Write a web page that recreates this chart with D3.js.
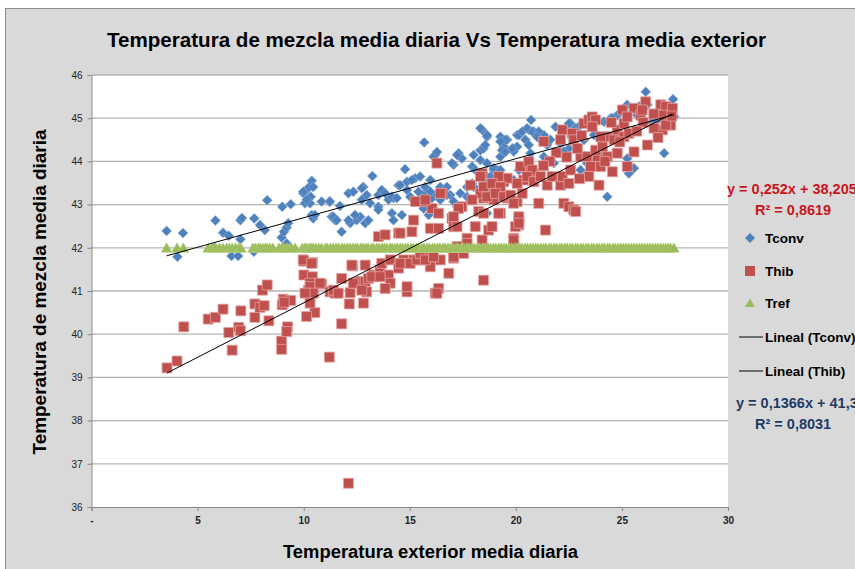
<!DOCTYPE html>
<html><head><meta charset="utf-8">
<script src="https://cdn.jsdelivr.net/npm/d3@7"></script>
<style>html,body{margin:0;padding:0;background:#fff;overflow:hidden}</style>
</head><body><svg id="c" width="855" height="569"></svg>
<script>
// ---------------- DATA ----------------
const chartTitle = "Temperatura de mezcla media diaria Vs Temperatura media exterior";
const xAxisTitle = "Temperatura exterior media diaria";
const yAxisTitle = "Temperatura de mezcla media diaria";
const xTickValues = [0, 5, 10, 15, 20, 25, 30];
const xTickLabels = ["-", "5", "10", "15", "20", "25", "30"];
const yTickValues = [36, 37, 38, 39, 40, 41, 42, 43, 44, 45, 46];
const seriesNames = ["Tconv", "Thib", "Tref", "Lineal (Tconv)", "Lineal (Thib)"];

// Tconv [x, y]
const tconv = [
[3.54,42.39],[4.05,41.79],[4.31,42.34],[5.81,42.0],[5.84,42.63],[6.2,42.35],[6.47,42.28],[6.6,41.81],[6.91,41.81],[7.02,42.64],[7.02,42.2],[7.09,42.69],[7.65,41.91],[7.67,42.68],[7.94,42.53],[8.17,42.41],[8.28,43.1],[8.99,42.95],[9.39,43.01],[8.96,42.24],[9.07,42.37],[9.2,42.47],[9.27,42.57],[9.2,42.1],[9.98,43.26],[10.14,43.34],[10.26,43.41],[10.38,43.55],[10.33,43.18],[10.06,43.03],[10.3,43.03],[10.38,42.76],[10.45,42.68],[10.85,43.07],[11.21,43.07],[11.32,42.72],[11.48,42.64],[11.79,42.37],[12.11,43.26],[11.71,42.97],[12.19,42.57],[12.5,42.64],[12.81,43.41],[12.74,43.11],[12.9,42.57],[13.05,42.64],[13.24,43.66],[13.52,43.22],[13.68,43.34],[13.84,43.26],[13.52,42.95],[14.0,43.11],[14.23,43.15],[14.16,42.8],[14.23,42.64],[14.63,42.76],[14.78,43.82],[14.47,43.45],[14.87,43.34],[15.02,43.18],[15.26,43.61],[15.49,43.65],[15.65,42.91],[15.89,42.76],[16.05,43.15],[15.65,43.22],[15.68,44.44],[15.97,43.57],[16.2,44.15],[16.44,43.41],[16.75,43.41],[16.91,43.22],[17.07,43.92],[17.3,44.19],[17.46,44.07],[17.07,43.07],[17.23,42.95],[17.7,43.41],[17.94,43.49],[17.94,43.88],[18.33,44.03],[18.33,44.26],[18.48,44.3],[18.41,44.73],[18.64,44.57],[18.48,43.72],[18.64,43.41],[19.12,43.8],[19.27,44.11],[19.43,44.34],[19.27,44.57],[19.59,44.5],[19.9,44.3],[20.06,44.61],[19.35,44.26],[18.96,43.34],[19.12,43.18],[18.64,42.8],
[26.12,45.61],[27.41,45.44],[20.72,44.96],[20.22,44.65],[20.61,44.73],[20.85,44.69],[21.32,44.61],[20.45,44.5],[20.06,44.34],[19.9,44.23],[20.61,44.38],[21.87,44.8],[22.58,44.88],[22.89,44.77],[22.11,44.42],[22.5,44.3],[22.26,44.23],[21.32,44.11],[21.79,43.96],[20.14,43.8],[24.15,44.92],[24.47,45.0],[24.78,45.07],[25.1,45.15],[25.73,45.07],[26.2,45.31],[25.81,45.27],[23.52,44.8],[23.76,44.65],[24.0,44.5],[23.21,44.5],[22.89,44.34],[23.05,43.8],[23.36,43.96],[25.25,44.07],[25.33,43.72],[25.57,43.84],[24.31,43.18],[26.99,44.19],[26.36,44.88],[26.67,44.96],[27.14,44.96],[27.46,45.04],
[16.12,44.11],[16.28,44.22],[10.45,43.41],[9.98,43.3],[10.14,43.11],[10.53,42.76],[11.24,43.07],[11.4,42.72],[11.56,42.64],[12.11,42.64],[12.34,43.3],[12.74,43.38],[12.97,43.22],[13.13,43.03],[12.66,42.72],[12.42,42.76],[13.52,42.88],[14.16,43.18],[14.39,43.15],[14.55,43.45],[14.87,43.53],[15.1,43.57],[15.41,43.3],[15.73,43.41],[15.97,43.3],[16.28,43.22],[16.44,43.11],[16.75,43.22],[17.38,43.26],[17.7,43.18],[18.01,43.41],[18.33,43.3],[18.64,43.49],[18.96,43.8],[18.56,44.38],[18.01,44.15],[18.09,43.8],[17.23,44.15],[16.99,43.96],
[19.51,44.5],[19.27,44.46],[19.51,44.22],[19.83,44.3],[20.14,44.61],[20.3,44.69],[20.53,44.77],[20.77,44.69],[21.08,44.69],[21.0,44.57],[21.24,44.46],[21.48,44.38],[21.63,44.5],[22.11,44.57],[22.34,44.73],[22.5,44.88],[22.82,44.77],[23.05,44.84],[23.21,44.5],[23.68,44.61],[24.31,44.92],[24.55,45.0],[25.25,45.31],[25.96,45.27],[26.51,44.96],[18.64,44.61],[18.33,44.77],[18.64,43.96],[18.96,43.84],[19.27,43.8],[18.8,43.65],[19.9,43.57],[20.37,43.8],[20.69,44.19]
];

// Thib [x, y]
const thib = [
[3.56,39.22],[4.03,39.38],[4.35,40.17],[5.5,40.35],[5.84,40.39],[6.2,40.58],[6.47,40.04],[6.63,39.63],[6.94,40.16],[7.02,40.08],[7.04,40.54],[7.7,40.7],[7.7,40.39],[7.94,40.62],[8.14,40.66],[8.06,41.02],[8.28,41.14],[8.36,40.31],[9.04,40.81],[8.99,40.68],[9.39,40.78],[9.08,40.74],[8.96,39.84],[8.96,39.65],[9.24,40.17],[9.2,40.06],[10.01,41.69],[10.41,41.66],[10.01,41.37],[10.41,41.33],[10.3,41.18],[10.22,41.02],[10.38,40.95],[10.3,40.87],[10.53,40.5],[10.85,41.16],[11.24,40.98],[11.48,40.95],[11.21,39.47],[11.79,41.29],[11.79,40.24],[12.15,40.7],[12.31,41.58],[12.19,40.96],[12.42,41.18],[12.66,41.22],[12.82,40.72],[12.9,41.6],[12.11,36.55],
[12.97,40.98],[12.9,41.22],[13.29,41.37],[13.6,41.49],[13.68,41.64],[14.0,41.37],[14.08,41.18],[13.84,41.06],[13.52,42.26],[13.84,42.3],[14.47,42.34],[15.1,42.37],[15.18,42.64],[14.87,40.98],[14.87,41.1],[14.71,41.72],[15.18,41.72],[15.49,41.72],[15.81,41.79],[15.97,41.56],[15.65,43.07],[16.05,42.91],[16.36,42.8],[15.97,42.45],[16.36,42.45],[16.2,40.95],[16.36,41.06],[16.44,41.72],[16.84,41.41],[17.07,41.76],[16.52,43.26],[16.28,43.96],[16.99,42.68],[17.07,42.49],[17.46,42.95],[17.54,41.87],[17.7,42.22],[17.86,43.45],[18.09,42.49],[18.25,42.84],[18.41,42.18],[18.48,41.25],[18.72,42.41],[18.88,42.49],[19.27,42.8],[19.9,42.22],[20.14,42.64],[20.14,42.53],[19.59,43.15],[20.06,43.07],[18.96,43.34],[19.12,43.45],[19.43,43.53],[18.96,43.11],[18.48,43.15],[18.33,43.26],[20.37,43.57],[20.85,43.72],[20.61,43.88],[20.06,43.49],[19.59,43.61],[19.19,43.65],[20.3,43.26],[17.94,43.11],[17.3,42.91],
[9.98,41.72],[10.38,41.64],[10.3,41.1],[10.77,41.18],[10.45,40.95],[10.06,40.95],[11.4,41.02],[11.63,40.95],[12.27,41.6],[12.34,41.18],[13.05,41.29],[12.74,41.02],[13.21,41.33],[13.6,41.33],[14.08,41.72],[14.47,41.53],[14.55,41.64],[15.02,41.64],[15.34,41.72],[15.49,41.87],[15.73,41.72],[16.12,41.79],[16.28,40.95],[17.07,41.79],[17.7,42.1],[17.23,42.03],[14.55,42.34],[15.26,43.07],[15.73,43.11],[16.44,43.26],[17.07,42.72],[17.23,42.49],[18.41,43.72],[18.48,43.41],[18.64,43.18],[18.88,43.49],[10.14,40.41],[10.3,40.72],
[18.33,43.65],[18.48,42.8],[19.19,42.8],[19.27,43.41],[19.04,43.26],[19.43,43.18],[19.75,43.22],[19.9,43.03],[20.22,43.88],[20.61,43.99],[20.77,43.8],[20.53,43.65],[20.85,43.53],[21.16,43.65],[21.48,43.45],[21.71,43.65],[22.11,43.45],[22.19,43.65],[22.5,43.49],[22.58,43.8],[21.08,43.03],[21.4,42.41],[20.14,42.72],[19.98,42.49],[22.26,43.03],[22.5,42.95],[22.73,42.88],[21.32,44.46],[22.19,44.73],[22.11,44.5],[22.66,44.65],[22.73,44.5],[23.21,44.88],[23.44,44.96],[23.6,45.03],[23.76,44.96],[23.6,44.8],[23.05,44.11],[23.36,44.11],[23.84,44.11],[24.31,44.11],[24.78,44.19],[23.52,43.88],[24.0,43.88],[24.55,43.76],[23.92,43.45],[23.44,43.65],[23.76,44.26],[24.08,44.34],[24.31,44.57],[24.0,44.57],[24.63,44.5],[24.78,44.73],[25.1,44.88],[25.02,45.19],[25.57,45.23],[25.25,45.03],[25.89,45.07],[26.12,45.38],[25.96,45.19],[25.1,44.57],[25.33,44.65],[26.2,44.38],[25.57,44.22],[25.25,43.88],[26.83,45.31],[27.07,45.27],[27.38,45.23],[26.91,45.07],[27.3,44.84],[26.91,44.73],[26.51,44.77],[27.07,44.84],[22.82,42.84],[20.14,42.57],[19.9,42.18],
[21.9,44.2],[22.4,44.1],[21.6,44.0],[23.1,44.6],[24.9,44.45],[26.5,45.1],[26.0,44.9],[25.7,44.7],[24.5,44.9],[22.9,44.3],[21.3,43.9],[27.35,45.05],[26.7,44.55],[24.2,44.0],[23.0,43.6]
];

// Tref: x positions, value constant 42
const trefValue = 42;
const trefX = [3.54,4.03,4.33,5.5,5.68,5.84,6.03,6.2,6.37,6.49,6.63,6.79,6.94,7.04,7.61,7.73,7.86,7.95,8.07,8.19,8.29,8.41,8.55,8.84,8.97,9.09,9.21,9.34,9.43,9.6,9.94,10.06,10.14,10.27,10.36,10.44,10.57,10.71,10.84,11.02,11.11,11.26,11.39,11.53,11.65,11.81,11.92,12.06,12.17,12.31,12.44,12.54,12.69,12.8,12.93,13.04,13.19,13.29,13.44,13.54,13.69,13.81,13.92,14.07,14.17,14.31,14.42,14.56,14.67,14.81,14.92,15.06,15.17,15.31,15.42,15.57,15.67,15.81,15.92,16.07,16.17,16.31,16.42,16.57,16.67,16.81,16.94,17.05,17.19,17.29,17.44,17.55,17.69,17.8,17.94,18.05,18.19,18.29,18.44,18.55,18.69,18.8,18.94,19.05,19.19,19.3,19.44,19.55,19.69,19.8,19.94,20.05,20.19,20.3,20.44,20.55,20.69,20.81,20.94,21.05,21.19,21.31,21.42,21.57,21.67,21.81,21.92,22.07,22.17,22.31,22.42,22.57,22.67,22.82,22.92,23.07,23.17,23.32,23.42,23.57,23.67,23.82,23.92,24.07,24.17,24.32,24.42,24.57,24.67,24.82,24.94,25.07,25.19,25.32,25.44,25.57,25.69,25.82,25.94,26.07,26.19,26.32,26.44,26.57,26.69,26.82,26.94,27.07,27.19,27.3,27.45];

// Linear trendlines (from the displayed equations)
const trendConv = {slope: 0.1366, intercept: 41.33, r2: "0,8031", x0: 3.54, x1: 27.46};
const trendHib  = {slope: 0.252,  intercept: 38.205, r2: "0,8619", x0: 3.56, x1: 27.38};
const eqConvText = "y = 0,1366x + 41,33";
const eqHibText  = "y = 0,252x + 38,205";

// ---------------- DRAW ----------------
const svg = d3.select("#c");
const colors = {conv: "#4F81BD", hib: "#C0504D", ref: "#9BBB59"};
const narrow = "'Liberation Sans Narrow','Liberation Sans',Arial,sans-serif";
const sans = "'Liberation Sans',Arial,sans-serif";

svg.append("rect").attr("x", 0).attr("y", 0).attr("width", 855).attr("height", 569).attr("fill", "#fff");
svg.append("rect").attr("x", 5.5).attr("y", 8.5).attr("width", 900).attr("height", 600)
  .attr("fill", "#d9d9d9").attr("stroke", "#8c8c8c").attr("stroke-width", 1);

const plot = {l: 91.5, r: 728, t: 75, b: 507};
const x = d3.scaleLinear().domain([0, 30]).range([plot.l, plot.r]);
const y = d3.scaleLinear().domain([36, 46]).range([plot.b, plot.t]);

svg.append("rect").attr("x", plot.l).attr("y", plot.t).attr("width", plot.r - plot.l)
  .attr("height", plot.b - plot.t).attr("fill", "#fff");

// gridlines
svg.append("g").selectAll("line").data(yTickValues.filter(d => d > 36)).join("line")
  .attr("x1", plot.l).attr("x2", plot.r).attr("y1", d => y(d)).attr("y2", d => y(d))
  .attr("stroke", "#b4b4b4").attr("stroke-width", 1.3);

// axes
const yAxis = svg.append("g").attr("transform", `translate(${plot.l},0)`)
  .call(d3.axisLeft(y).tickValues(yTickValues).tickSize(4).tickPadding(5).tickFormat(d3.format("d")));
const xAxis = svg.append("g").attr("transform", `translate(0,${plot.b})`)
  .call(d3.axisBottom(x).tickValues(xTickValues).tickSize(4).tickPadding(6)
    .tickFormat((d, i) => xTickLabels[i]));
[yAxis, xAxis].forEach(g => {
  g.select(".domain").attr("stroke", "#868686");
  g.selectAll(".tick line").attr("stroke", "#868686");
  g.selectAll("text").attr("fill", "#222").style("font-family", narrow).style("font-size", "10px");
});
xAxis.selectAll("text").style("font-weight", "bold");

// marker shapes
const diamond = s => `M0,${-s}L${s},0L0,${s}L${-s},0Z`;
const square = s => `M${-s},${-s}H${s}V${s}H${-s}Z`;
const triangle = s => `M0,${-s}L${s*1.1},${s*0.9}L${-s*1.1},${s*0.9}Z`;

svg.append("g").selectAll("path").data(tconv).join("path")
  .attr("transform", d => `translate(${x(d[0])},${y(d[1])})`)
  .attr("d", diamond(5)).attr("fill", colors.conv).attr("stroke", "#8fb0d8").attr("stroke-width", 0.6);

svg.append("g").selectAll("path").data(thib).join("path")
  .attr("transform", d => `translate(${x(d[0])},${y(d[1])})`)
  .attr("d", square(5)).attr("fill", colors.hib).attr("stroke", "#e3a3a2").attr("stroke-width", 0.8);

svg.append("g").selectAll("path").data(trefX).join("path")
  .attr("transform", d => `translate(${x(d)},${y(trefValue)})`)
  .attr("d", triangle(5)).attr("fill", colors.ref).attr("stroke", "#b9d28a").attr("stroke-width", 0.5);

// trendlines
[trendConv, trendHib].forEach(t => {
  svg.append("line")
    .attr("x1", x(t.x0)).attr("y1", y(t.slope * t.x0 + t.intercept))
    .attr("x2", x(t.x1)).attr("y2", y(t.slope * t.x1 + t.intercept))
    .attr("stroke", "#000").attr("stroke-width", 1);
});

// titles
svg.append("text").attr("x", 436.5).attr("y", 47).attr("text-anchor", "middle")
  .attr("textLength", 659).attr("lengthAdjust", "spacingAndGlyphs")
  .style("font-family", narrow).style("font-weight", "bold").style("font-size", "21px")
  .attr("fill", "#000").text(chartTitle);
svg.append("text").attr("x", 430.5).attr("y", 558).attr("text-anchor", "middle")
  .attr("textLength", 295).attr("lengthAdjust", "spacingAndGlyphs")
  .style("font-family", narrow).style("font-weight", "bold").style("font-size", "18px")
  .attr("fill", "#000").text(xAxisTitle);
svg.append("text").attr("transform", "translate(46,292) rotate(-90)").attr("text-anchor", "middle")
  .attr("textLength", 325).attr("lengthAdjust", "spacingAndGlyphs")
  .style("font-family", narrow).style("font-weight", "bold").style("font-size", "18px")
  .attr("fill", "#000").text(yAxisTitle);

// legend
const lg = svg.append("g").style("font-family", sans).style("font-weight", "bold").style("font-size", "13.5px");
const legY = [238, 271, 303, 337, 371];
lg.append("path").attr("transform", `translate(750,${legY[0]})`).attr("d", diamond(5)).attr("fill", colors.conv);
lg.append("path").attr("transform", `translate(750,${legY[1]})`).attr("d", square(5)).attr("fill", colors.hib);
lg.append("path").attr("transform", `translate(750,${legY[2]})`).attr("d", triangle(4.5)).attr("fill", colors.ref);
lg.append("line").attr("x1", 739).attr("x2", 763).attr("y1", legY[3]).attr("y2", legY[3]).attr("stroke", "#000");
lg.append("line").attr("x1", 739).attr("x2", 763).attr("y1", legY[4]).attr("y2", legY[4]).attr("stroke", "#000");
seriesNames.forEach((n, i) => {
  lg.append("text").attr("x", 765).attr("y", legY[i] + 4.5).attr("fill", "#000").text(n);
});

// equation labels
const eq = svg.append("g").style("font-family", sans).style("font-weight", "bold").style("font-size", "14.5px");
eq.append("text").attr("x", 727).attr("y", 194).attr("fill", "#c8161d").text(eqHibText);
eq.append("text").attr("x", 755).attr("y", 215).attr("fill", "#c8161d").text("R² = " + trendHib.r2);
eq.append("text").attr("x", 736).attr("y", 408).attr("fill", "#1f3b64").text(eqConvText);
eq.append("text").attr("x", 755).attr("y", 429).attr("fill", "#1f3b64").text("R² = " + trendConv.r2);
</script>
</body></html>
